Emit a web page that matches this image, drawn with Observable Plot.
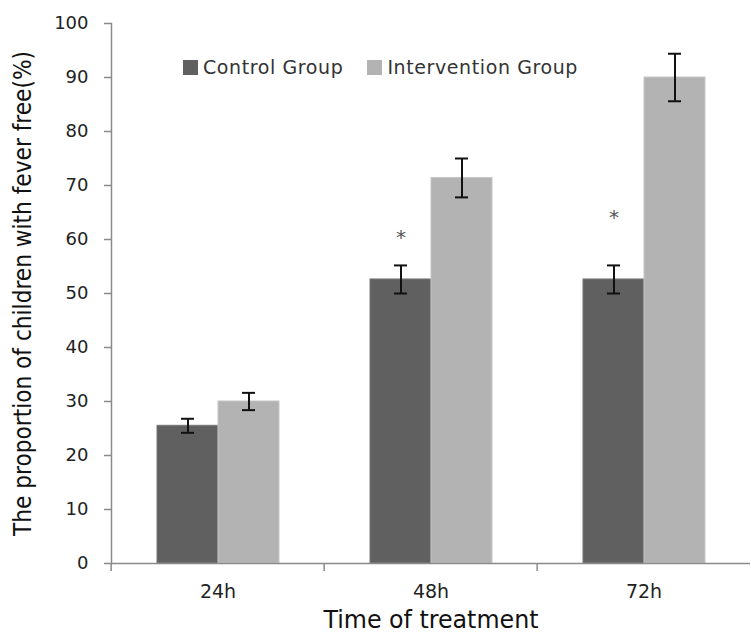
<!DOCTYPE html>
<html>
<head>
<meta charset="utf-8">
<script src="https://cdn.jsdelivr.net/npm/d3@7"></script>
<script src="https://cdn.jsdelivr.net/npm/@observablehq/plot@0.6"></script>
<style>
  html, body { margin: 0; padding: 0; background: #fff; }
  #wrap { position: relative; width: 751px; height: 634px; }
  #legend { position: absolute; left: 183px; top: 56px; display: flex; align-items: center;
    font-family: "DejaVu Sans", sans-serif; font-size: 19px; letter-spacing: 0.6px; color: #333; }
  #legend .sw { display: inline-block; width: 15px; height: 15px; margin-right: 5px; }
  #legend .item { display: flex; align-items: center; margin-right: 24px; }
</style>
</head>
<body>
<div id="wrap"><div id="legend"></div></div>
<script>
const times = ["24h", "48h", "72h"];
const groups = ["Control Group", "Intervention Group"];
const controlMean = [25.5, 52.6, 52.6];
const controlErr = [1.3, 2.6, 2.6];
const interventionMean = [30.0, 71.4, 90.0];
const interventionErr = [1.6, 3.6, 4.4];
const starTimes = ["48h", "72h"];
const starY = [60.4, 64.0];
const yTicks = [0, 10, 20, 30, 40, 50, 60, 70, 80, 90, 100];
const yTitle = "The proportion of children with fever free(%)";
const xTitle = "Time of treatment";
const colors = ["#606060", "#b3b3b3"];
const strokes = ["#777777", "#c6c6c6"];

const rows = [];
times.forEach((t, i) => {
  rows.push({time: t, group: groups[0], mean: controlMean[i], err: controlErr[i]});
  rows.push({time: t, group: groups[1], mean: interventionMean[i], err: interventionErr[i]});
});
const stars = starTimes.map((t, i) => ({time: t, group: groups[0], y: starY[i]}));

const W = 751, H = 634, mL = 110, mR = 0, mT = 23, mB = 71;
const facetW = (W - mL - mR) / times.length;
const titleFont = "Liberation Sans Narrow, DejaVu Sans Condensed, Liberation Sans, sans-serif";

const chart = Plot.plot({
  width: W, height: H,
  marginLeft: mL, marginRight: mR, marginTop: mT, marginBottom: mB,
  style: {fontFamily: "DejaVu Sans, sans-serif", background: "#fff"},
  fx: {domain: times, padding: 0},
  x: {domain: groups, paddingInner: 0, paddingOuter: 0.72, axis: null},
  y: {domain: [0, 100]},
  color: {domain: groups, range: colors},
  marks: [
    Plot.barY(rows, {fx: "time", x: "group", y: "mean", fill: "group",
      stroke: d => strokes[groups.indexOf(d.group)], strokeWidth: 1}),
    Plot.ruleX(rows, {fx: "time", x: "group", y1: d => d.mean - d.err, y2: d => d.mean + d.err,
      stroke: "#111", strokeWidth: 2}),
    Plot.tickY(rows, {fx: "time", x: "group", y: d => d.mean - d.err, stroke: "#111", strokeWidth: 2, insetLeft: 24, insetRight: 24}),
    Plot.tickY(rows, {fx: "time", x: "group", y: d => d.mean + d.err, stroke: "#111", strokeWidth: 2, insetLeft: 24, insetRight: 24}),
    Plot.text(stars, {fx: "time", x: "group", y: "y", text: () => "*", fontSize: 20, fill: "#555"}),
    Plot.ruleY([0], {stroke: "#8a8a8a", strokeWidth: 1.5}),
    Plot.frame({anchor: "left", facetAnchor: "left", stroke: "#8a8a8a", strokeWidth: 1.5}),
    Plot.axisY({ticks: yTicks, tickSize: 7, tickPadding: 16, stroke: "#8a8a8a", strokeWidth: 1.5, fill: "#222", fontSize: 18, label: null, facetAnchor: "left"}),
    Plot.axisY({ticks: [], label: yTitle, labelAnchor: "center", labelArrow: "none",
      labelOffset: 98, fontSize: 25, fontFamily: titleFont, fill: "#111", facetAnchor: "left"}),
    Plot.axisFx({anchor: "bottom", tickSize: 8, tickFormat: () => "", stroke: "#8a8a8a", strokeWidth: 1.5, dx: -facetW / 2, label: null}),
    Plot.axisFx({anchor: "bottom", tickSize: 0, tickPadding: 21, fontSize: 19, fill: "#222", label: null}),
    Plot.axisFx({anchor: "bottom", ticks: [], label: xTitle, labelAnchor: "center", labelArrow: "none", labelOffset: 64,
      fontSize: 24, fontFamily: titleFont, fill: "#111"})
  ]
});
document.getElementById("wrap").prepend(chart);

// fit axis titles to the reference lengths
d3.select(chart).selectAll("text").each(function() {
  const t = this.textContent;
  if (t === yTitle) d3.select(this).attr("textLength", 485).attr("lengthAdjust", "spacingAndGlyphs");
  if (t === xTitle) d3.select(this).attr("textLength", 215).attr("lengthAdjust", "spacingAndGlyphs");
});

const legend = d3.select("#legend");
groups.forEach((g, i) => {
  const it = legend.append("div").attr("class", "item");
  it.append("span").attr("class", "sw").style("background", colors[i]);
  it.append("span").text(g);
});
</script>
</body>
</html>
